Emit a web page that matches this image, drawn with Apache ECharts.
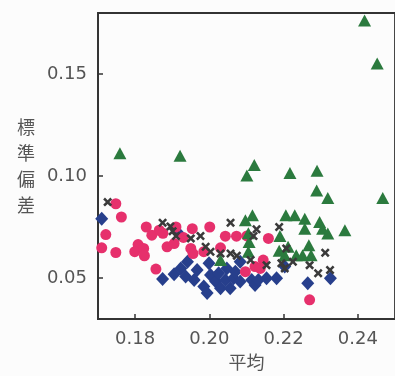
<!DOCTYPE html>
<html><head><meta charset="utf-8">
<script src="https://cdn.jsdelivr.net/npm/echarts@6/dist/echarts.min.js"></script>
<style>html,body{margin:0;padding:0;background:#fcfcfc}#c{width:395px;height:376px}</style>
</head><body><div id="c"></div>
<script>
var xTicks = [0.18, 0.20, 0.22, 0.24];
var yTicks = [0.05, 0.10, 0.15];
var xLabel = '平均';
var yLabel = '標準偏差';

var greenTriangles = [
[0.2418,0.1763],[0.2452,0.1552],[0.1759,0.1113],[0.1921,0.1100],
[0.2121,0.1055],[0.2101,0.1003],[0.2217,0.1016],[0.2290,0.1027],[0.2289,0.0930],[0.2319,0.0893],[0.2467,0.0893],
[0.2097,0.0784],[0.2116,0.0808],[0.2206,0.0808],[0.2230,0.0808],[0.2257,0.0792],[0.2257,0.0743],[0.2297,0.0776],
[0.2305,0.0743],[0.2319,0.0719],[0.2365,0.0735],[0.2190,0.0707],[0.2107,0.0678],[0.2105,0.0630],[0.2212,0.0654],
[0.2203,0.0613],[0.2234,0.0613],[0.2268,0.0662],[0.2274,0.0613],[0.2251,0.0613],[0.2030,0.0589],[0.2188,0.0635],[0.2105,0.0720]
];
var pinkCircles = [
[0.1748,0.0865],[0.1763,0.0800],[0.1721,0.0714],[0.1710,0.0649],[0.1748,0.0626],[0.1830,0.0751],[0.1845,0.0711],
[0.1865,0.0735],[0.1808,0.0665],[0.1799,0.0630],[0.1823,0.0646],[0.1825,0.0610],[0.1856,0.0545],[0.1886,0.0654],
[0.1905,0.0670],[0.1910,0.0751],[0.1954,0.0743],[0.1950,0.0646],[0.1956,0.0621],[0.2001,0.0751],[0.1985,0.0630],
[0.2030,0.0649],[0.2043,0.0706],[0.2073,0.0706],[0.2101,0.0707],[0.2159,0.0695],[0.2097,0.0532],[0.2123,0.0557],
[0.2145,0.0589],[0.2137,0.0548],[0.2270,0.0394],[0.1875,0.0720],[0.1930,0.0700]
];
var navyDiamonds = [
[0.1710,0.0792],[0.1874,0.0496],[0.1905,0.0519],[0.1923,0.0548],[0.1941,0.0581],[0.1936,0.0508],[0.1959,0.0491],
[0.1967,0.0540],[0.1985,0.0459],[0.1994,0.0427],[0.1999,0.0573],[0.2003,0.0516],[0.2017,0.0484],[0.2030,0.0451],
[0.2025,0.0524],[0.2043,0.0491],[0.2047,0.0548],[0.2056,0.0451],[0.2065,0.0500],[0.2070,0.0532],[0.2083,0.0581],
[0.2083,0.0484],[0.2114,0.0491],[0.2123,0.0467],[0.2132,0.0491],[0.2154,0.0500],[0.2181,0.0500],[0.2203,0.0557],
[0.2265,0.0475],[0.2326,0.0500],[0.1919,0.0715]
];
var grayCrosses = [
[0.1726,0.0873],[0.1874,0.0772],[0.1895,0.0754],[0.1901,0.0730],[0.1910,0.0707],[0.1950,0.0695],[0.1976,0.0707],
[0.1990,0.0654],[0.2003,0.0630],[0.2057,0.0772],[0.2057,0.0621],[0.2074,0.0610],[0.2127,0.0740],[0.2119,0.0707],
[0.2111,0.0589],[0.2154,0.0564],[0.2188,0.0751],[0.2194,0.0573],[0.2203,0.0548],[0.2225,0.0581],[0.2270,0.0564],
[0.2293,0.0524],[0.2312,0.0625],[0.2325,0.0540],[0.2207,0.0646],[0.2030,0.0621]
];

var chart = echarts.init(document.getElementById('c'), null, {renderer:'canvas'});
var font = 'DejaVu Sans, sans-serif';
var axisCol = '#333';
var txtCol = '#555';
chart.setOption({
  backgroundColor:'#fcfcfc',
  animation:false,
  grid:{left:98, right:-3, top:13, bottom:55, show:true, borderColor:axisCol, borderWidth:1.8, backgroundColor:'transparent'},
  xAxis:{type:'value', min:0.17, max:0.25,
    name:xLabel, nameLocation:'middle', nameGap:43,
    nameTextStyle:{fontFamily:'Noto Sans CJK JP', fontSize:18, color:txtCol, verticalAlign:'middle'},
    axisLine:{show:true, onZero:false, lineStyle:{color:axisCol, width:1.8}},
    axisTick:{show:true, inside:true, length:5, customValues:xTicks, lineStyle:{color:axisCol, width:1.5}},
    axisLabel:{customValues:xTicks, margin:11, fontFamily:font, fontSize:18, color:txtCol, formatter:function(v){return v.toFixed(2);}},
    splitLine:{show:false}},
  yAxis:{type:'value', min:0.03, max:0.18,
    name:yLabel.split('').join('\n'), nameLocation:'middle', nameGap:72, nameRotate:0,
    nameTextStyle:{fontFamily:'Noto Sans CJK JP', fontSize:18, lineHeight:26, color:txtCol, align:'center', verticalAlign:'middle'},
    axisLine:{show:true, onZero:false, lineStyle:{color:axisCol, width:1.8}},
    axisTick:{show:true, inside:true, length:5, customValues:yTicks, lineStyle:{color:axisCol, width:1.5}},
    axisLabel:{customValues:yTicks, margin:11, fontFamily:font, fontSize:18, color:txtCol, formatter:function(v){return v.toFixed(2);}},
    splitLine:{show:false}},
  series:[
    {type:'scatter', data:navyDiamonds, symbol:'diamond', symbolSize:[13,14], itemStyle:{color:'#273f8c', opacity:1}},
    {type:'scatter', data:pinkCircles, symbol:'circle', symbolSize:11, itemStyle:{color:'#e6306c', opacity:1}},
    {type:'scatter', data:greenTriangles, symbol:'triangle', symbolSize:[13,12], itemStyle:{color:'#2b7a3e', opacity:1}},
    {type:'scatter', data:grayCrosses, symbol:'path://M2,0L5,3L8,0L10,2L7,5L10,8L8,10L5,7L2,10L0,8L3,5L0,2Z', symbolSize:9, itemStyle:{color:'#3a3a3a', opacity:1}}
  ]
});
</script>
</body></html>
